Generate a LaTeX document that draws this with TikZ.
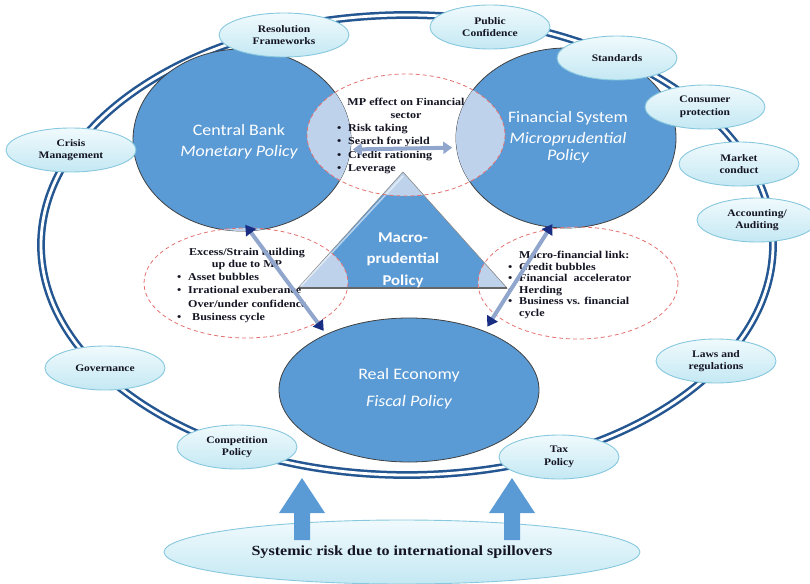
\documentclass[tikz,border=0pt]{standalone}
\usepackage{fontspec}
\setmainfont{Liberation Serif}[FakeStretch=1.15]
\newfontfamily\calibrifont{Carlito}[FakeStretch=1.12]
\usetikzlibrary{shapes.geometric,arrows.meta}

\definecolor{ringblue}{RGB}{36,86,145}
\definecolor{policyblue}{RGB}{91,155,213}
\definecolor{overlapblue}{RGB}{190,211,235}
\definecolor{tagtop}{RGB}{240,250,253}
\definecolor{tagbottom}{RGB}{196,232,243}
\definecolor{tagedge}{RGB}{135,200,222}
\definecolor{dashred}{RGB}{228,112,112}
\definecolor{linkgrey}{RGB}{145,166,204}
\definecolor{tipnavy}{RGB}{25,45,130}
\definecolor{notetext}{RGB}{20,20,35}

\newcommand\bul{\makebox[11pt][l]{\textbullet}}

\tikzset{
    tag/.style = {ellipse, draw = tagedge, line width = 0.9pt, top color = tagtop, bottom color = tagbottom,
                  inner sep = 0pt, minimum width = 120pt, minimum height = 44pt, align = center,
                  text = notetext, font = \fontsize{10}{12.5}\selectfont\bfseries},
    policy/.style = {ellipse, draw = black!75, line width = 0.8pt, fill = policyblue, inner sep = 0pt},
    policytext/.style = {text = white, inner sep = 0pt, font = \calibrifont\fontsize{16}{20}\selectfont},
    zone/.style = {draw = dashred, line width = 0.8pt, dash pattern = on 4pt off 3pt},
    note/.style = {inner sep = 0pt, align = left, text = notetext, font = \fontsize{10.5}{13.3}\selectfont\bfseries},
    link/.style = {draw = linkgrey, line width = 4pt},
    navytip/.style = {{Triangle[length = 10pt, width = 12pt, color = tipnavy]}-{Triangle[length = 10pt, width = 12pt, color = tipnavy]}},
    bankshape/.style = {insert path = {(242,140) ellipse [x radius = 109, y radius = 91]}},
    systemshape/.style = {insert path = {(566,138) ellipse [x radius = 110, y radius = 90]}},
    economyshape/.style = {insert path = {(409,390) ellipse [x radius = 130, y radius = 72]}},
    macroshape/.style = {insert path = {(403,172) -- (507,288) -- (298,288) -- cycle}},
}

\begin{document}
\begin{tikzpicture}[x = 1pt, y = -1pt]
    \useasboundingbox (0,0) rectangle (810,583);

    % Outer ring of supporting frameworks:
    \draw [ringblue, line width = 2.5pt, double = white, double distance = 2.8pt]
        (407,245) ellipse [x radius = 366, y radius = 230];

    % The three policy areas and the macroprudential triangle:
    \node [policy, minimum width = 218pt, minimum height = 182pt] (bank)    at (242,140) {};
    \node [policy, minimum width = 220pt, minimum height = 180pt] (system)  at (566,138) {};
    \node [policy, minimum width = 260pt, minimum height = 144pt] (economy) at (409,390) {};
    \fill [policyblue, macroshape];

    % Lighter areas where the channels overlap the policy areas:
    \foreach \zx/\zy/\zrx/\zry in {406/135/99/61, 246/283/102/55, 578/283/100/56} {
        \begin{scope}
            \clip (\zx,\zy) ellipse [x radius = \zrx, y radius = \zry];
            \fill [overlapblue, bankshape];
            \fill [overlapblue, systemshape];
            \fill [overlapblue, economyshape];
            \fill [overlapblue, macroshape];
        \end{scope}
    }
    \draw [black!45, line width = 0.6pt, macroshape];
    \draw [white, opacity = 0.55, line width = 1.6pt] (301,286) -- (403,176);
    \draw [black!60, line width = 1.2pt] (298,288) -- (507,288);

    % Transmission channels:
    \foreach \zx/\zy/\zrx/\zry in {406/135/99/61, 246/283/102/55, 578/283/100/56}
        \draw [zone] (\zx,\zy) ellipse [x radius = \zrx, y radius = \zry];

    % Policy labels:
    \node [policytext] (banktitle)   at (239,130) {Central Bank};
    \node [policytext] (bankpolicy)  at (239,152) {\itshape Monetary Policy};
    \node [policytext] (systemtitle) at (568,118) {Financial System};
    \node [policytext, align = center, font = \calibrifont\itshape\fontsize{16}{17}\selectfont]
        (systempolicy) at (568,148) {Microprudential\\Policy};
    \node [policytext] (economytitle)  at (409,375) {Real Economy};
    \node [policytext] (economypolicy) at (409,402) {\itshape Fiscal Policy};
    \node [policytext, align = center, font = \calibrifont\bfseries\fontsize{15}{21.5}\selectfont]
        (macro) at (403,260) {Macro-\\prudential\\Policy};

    % Channel notes:
    \node [note, align = center, font = \fontsize{10.5}{13}\selectfont\bfseries] (mptitle) at (406,108)
        {MP effect on Financial\\sector};
    \node [note, anchor = north west] (mplist) at (337,124)
        {\bul Risk taking\\\bul Search for yield\\\bul Credit rationing\\\bul Leverage};
    \node [note, align = center, font = \fontsize{10.5}{11.5}\selectfont\bfseries] (excesstitle) at (247,259)
        {Excess/Strain building\\up due to MP};
    \node [note, anchor = north west] (excesslist) at (177,273)
        {\bul Asset bubbles\\\bul Irrational exuberance\\\hspace*{11pt}Over/under confidence\\\bul\hspace*{4pt}Business cycle};
    \node [note, anchor = north west, font = \fontsize{10.5}{11.6}\selectfont\bfseries] (linklist) at (508,251)
        {\hspace*{11pt}Macro-financial link:\\\bul Credit bubbles\\\bul Financial\ \ accelerator\\\bul Herding\\\bul Business vs. financial\\\hspace*{11pt}cycle};

    % Links between the policy areas:
    \draw [link, {Triangle[length = 9pt, width = 12pt]}-{Triangle[length = 9pt, width = 12pt]},
           shorten <= 2pt, shorten >= 4pt] (bank.-5) -- (system.185);
    \draw [link, navytip, shorten <= -8pt, shorten >= 4pt] (bank.-85) -- (economy.146);
    \draw [link, navytip, shorten <= -4pt, shorten >= 5pt] (system.-100) -- (economy.38);

    % Frameworks around the ring:
    \node [tag, minimum width = 130pt] (resolution) at (284,35) {Resolution\\Frameworks};
    \node [tag] (confidence)  at (490,27)  {Public\\Confidence};
    \node [tag] (standards)   at (617,58)  {Standards};
    \node [tag] (consumer)    at (705,107) {Consumer\\protection};
    \node [tag] (conduct)     at (739,164) {Market\\conduct};
    \node [tag] (accounting)  at (757,220) {Accounting/\\Auditing};
    \node [tag] (laws)        at (716,361) {Laws and\\regulations};
    \node [tag] (tax)         at (559,457) {Tax\\Policy};
    \node [tag] (competition) at (237,447) {Competition\\Policy};
    \node [tag] (governance)  at (105,368) {Governance};
    \node [tag, minimum width = 130pt] (crisis) at (71,150) {Crisis\\Management};

    % International spillovers pushing on the ring:
    \node [tag, minimum width = 476pt, minimum height = 64pt, font = \fontsize{14}{16}\selectfont\bfseries]
        (systemic) at (402,552) {Systemic risk due to international spillovers};
    \foreach \ax in {302,512}
        \fill [policyblue] (\ax-8,540) -- (\ax-8,513) -- (\ax-23,513) -- (\ax,478)
            -- (\ax+23,513) -- (\ax+8,513) -- (\ax+8,540) -- cycle;
\end{tikzpicture}
\end{document}
